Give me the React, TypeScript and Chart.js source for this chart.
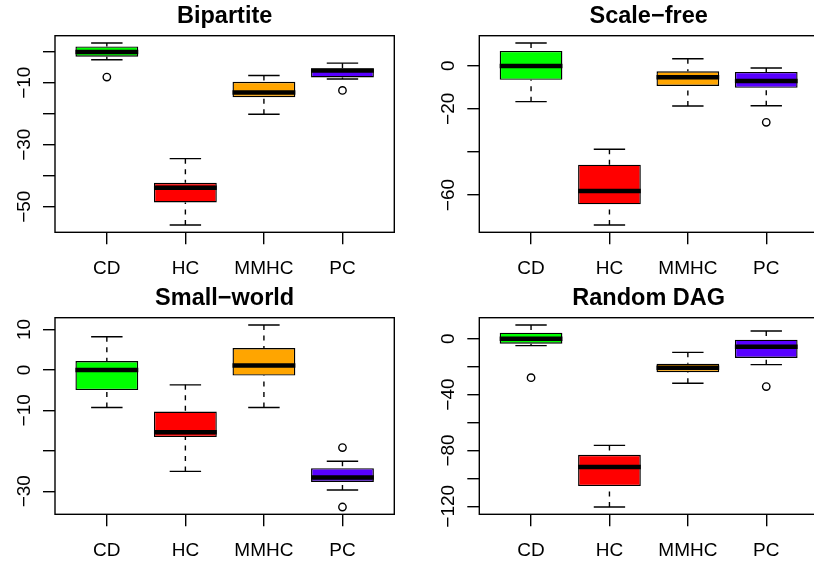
import { useEffect, useRef } from 'react';
import { Chart, registerables } from 'chart.js';

Chart.register(...registerables);

const FONT = '"Liberation Sans", Arial, Helvetica, sans-serif';

const categories = ['CD', 'HC', 'MMHC', 'PC'];
const boxColors = ['#00FF00', '#FF0000', '#FFA500', '#5800FF'];

// Bipartite
const bipartiteLow = [-2.6, -55.9, -20.2, -8.8];
const bipartiteQ1 = [-1.6, -48.6, -14.7, -8.3];
const bipartiteMedian = [-0.1, -43.9, -13.2, -6.1];
const bipartiteQ3 = [1.7, -42.3, -9.7, -5.4];
const bipartiteHigh = [2.8, -34.5, -7.7, -3.7];
const bipartiteOutlierCats = ['CD', 'PC'];
const bipartiteOutlierValues = [-8.2, -12.5];
const bipartiteTicks = [0, -10, -20, -30, -40, -50];
const bipartiteTickLabels = [-10, -30, -50];

// Scale-free
const scaleFreeLow = [-16.7, -73.9, -18.7, -18.6];
const scaleFreeQ1 = [-6.6, -64.3, -9.4, -10.3];
const scaleFreeMedian = [-0.2, -58.1, -5.4, -7.1];
const scaleFreeQ3 = [6.8, -45.9, -2.6, -2.9];
const scaleFreeHigh = [10.5, -38.8, 3.2, -1.1];
const scaleFreeOutlierCats = ['PC'];
const scaleFreeOutlierValues = [-26.3];
const scaleFreeTicks = [0, -20, -40, -60];
const scaleFreeTickLabels = [0, -20, -60];

// Small-world
const smallWorldLow = [-9.3, -25.1, -9.3, -29.7];
const smallWorldQ1 = [-5.0, -16.6, -1.4, -27.7];
const smallWorldMedian = [0.0, -15.4, 1.1, -26.6];
const smallWorldQ3 = [2.2, -10.3, 5.4, -24.3];
const smallWorldHigh = [8.2, -3.7, 11.1, -22.6];
const smallWorldOutlierCats = ['PC', 'PC'];
const smallWorldOutlierValues = [-19.2, -33.9];
const smallWorldTicks = [10, 0, -10, -20, -30];
const smallWorldTickLabels = [10, 0, -10, -30];

// Random DAG
const randomDagLow = [-5.0, -120.5, -31.9, -18.6];
const randomDagQ1 = [-3.6, -105.5, -24.0, -13.8];
const randomDagMedian = [0.0, -91.9, -20.9, -5.7];
const randomDagQ3 = [4.3, -83.1, -17.9, -0.7];
const randomDagHigh = [9.8, -76.4, -9.8, 5.5];
const randomDagOutlierCats = ['CD', 'PC'];
const randomDagOutlierValues = [-27.9, -34.3];
const randomDagTicks = [0, -20, -40, -60, -80, -100, -120];
const randomDagTickLabels = [0, -40, -80, -120];

type PanelData = {
  title: string;
  low: number[];
  q1: number[];
  median: number[];
  q3: number[];
  high: number[];
  outlierCats: string[];
  outlierValues: number[];
  ticks: number[];
  tickLabels: number[];
};

const panels: PanelData[] = [
  { title: 'Bipartite', low: bipartiteLow, q1: bipartiteQ1, median: bipartiteMedian, q3: bipartiteQ3, high: bipartiteHigh, outlierCats: bipartiteOutlierCats, outlierValues: bipartiteOutlierValues, ticks: bipartiteTicks, tickLabels: bipartiteTickLabels },
  { title: 'Scale\u2212free', low: scaleFreeLow, q1: scaleFreeQ1, median: scaleFreeMedian, q3: scaleFreeQ3, high: scaleFreeHigh, outlierCats: scaleFreeOutlierCats, outlierValues: scaleFreeOutlierValues, ticks: scaleFreeTicks, tickLabels: scaleFreeTickLabels },
  { title: 'Small\u2212world', low: smallWorldLow, q1: smallWorldQ1, median: smallWorldMedian, q3: smallWorldQ3, high: smallWorldHigh, outlierCats: smallWorldOutlierCats, outlierValues: smallWorldOutlierValues, ticks: smallWorldTicks, tickLabels: smallWorldTickLabels },
  { title: 'Random DAG', low: randomDagLow, q1: randomDagQ1, median: randomDagMedian, q3: randomDagQ3, high: randomDagHigh, outlierCats: randomDagOutlierCats, outlierValues: randomDagOutlierValues, ticks: randomDagTicks, tickLabels: randomDagTickLabels },
];

const fmt = (v: number) => (v < 0 ? '\u2212' + Math.abs(v) : String(v));

function PanelChart({ p, left, top, width, height, yAxisWidth, padRight }: { p: PanelData; left: number; top: number; width: number; height: number; yAxisWidth: number; padRight: number }) {
  const ref = useRef<HTMLCanvasElement | null>(null);
  useEffect(() => {
    if (!ref.current) return;
    const all = [...p.low, ...p.high, ...p.outlierValues];
    const dmin = Math.min(...all);
    const dmax = Math.max(...all);
    const ext = (dmax - dmin) * 0.04;
    const n = categories.length;
    const xMin = 0.5 - 0.04 * n;
    const xMax = n + 0.5 + 0.04 * n;
    const LW = 1.4;

    const rPlugin = {
      id: 'rbox',
      beforeDatasetsDraw(chart: any) {
        const ctx = chart.ctx;
        const xs = chart.scales.x;
        const ys = chart.scales.y;
        ctx.save();
        ctx.strokeStyle = '#000';
        ctx.lineWidth = LW;
        categories.forEach((_, i) => {
          const x = xs.getPixelForValue(i + 1);
          const half = xs.getPixelForValue(i + 1.2) - x;
          ctx.setLineDash([5, 5.5]);
          ctx.beginPath();
          ctx.moveTo(x, ys.getPixelForValue(p.high[i]));
          ctx.lineTo(x, ys.getPixelForValue(p.q3[i]));
          ctx.moveTo(x, ys.getPixelForValue(p.low[i]));
          ctx.lineTo(x, ys.getPixelForValue(p.q1[i]));
          ctx.stroke();
          ctx.setLineDash([]);
          ctx.beginPath();
          const yh = ys.getPixelForValue(p.high[i]);
          const yl = ys.getPixelForValue(p.low[i]);
          ctx.moveTo(x - half, yh);
          ctx.lineTo(x + half, yh);
          ctx.moveTo(x - half, yl);
          ctx.lineTo(x + half, yl);
          ctx.stroke();
        });
        ctx.restore();
      },
      afterDatasetsDraw(chart: any) {
        const ctx = chart.ctx;
        const xs = chart.scales.x;
        const ys = chart.scales.y;
        ctx.save();
        ctx.strokeStyle = '#000';
        ctx.lineWidth = 4.5;
        ctx.lineCap = 'butt';
        categories.forEach((_, i) => {
          const x = xs.getPixelForValue(i + 1);
          const half = xs.getPixelForValue(i + 1.4) - x;
          const y = ys.getPixelForValue(p.median[i]);
          ctx.beginPath();
          ctx.moveTo(x - half, y);
          ctx.lineTo(x + half, y);
          ctx.stroke();
        });
        ctx.restore();
      },
      afterDraw(chart: any) {
        const ctx = chart.ctx;
        const ca = chart.chartArea;
        const ys = chart.scales.y;
        ctx.save();
        ctx.strokeStyle = '#000';
        ctx.lineWidth = LW;
        ctx.strokeRect(ca.left, ca.top, ca.right - ca.left, ca.bottom - ca.top);
        ctx.fillStyle = '#000';
        ctx.font = `19px ${FONT}`;
        ctx.textAlign = 'center';
        ctx.textBaseline = 'alphabetic';
        p.tickLabels.forEach((v) => {
          const y = ys.getPixelForValue(v);
          ctx.save();
          ctx.translate(ca.left - 25, y);
          ctx.rotate(-Math.PI / 2);
          ctx.fillText(fmt(v), 0, 0);
          ctx.restore();
        });
        ctx.restore();
      },
    };

    const gridOpts = { drawOnChartArea: false, drawTicks: true, tickLength: 12, color: '#000', lineWidth: LW, offset: false };

    const chart = new Chart(ref.current, {
      type: 'bar',
      data: {
        datasets: [
          {
            type: 'bar',
            data: categories.map((_, i) => ({ x: i + 1, y: [p.q1[i], p.q3[i]] })) as any,
            backgroundColor: boxColors,
            borderColor: '#000',
            borderWidth: LW,
            borderSkipped: false,
            categoryPercentage: 1,
            barPercentage: 0.8,
          } as any,
          {
            type: 'scatter',
            data: p.outlierCats.map((c, k) => ({ x: categories.indexOf(c) + 1, y: p.outlierValues[k] })),
            pointRadius: 3.7,
            pointBorderWidth: LW,
            pointBorderColor: '#000',
            pointBackgroundColor: 'rgba(0,0,0,0)',
          } as any,
        ],
      },
      options: {
        animation: false,
        responsive: false,
        devicePixelRatio: window.devicePixelRatio || 1,
        layout: { padding: { left: 0, right: padRight, top: 0, bottom: 0 } },
        plugins: {
          legend: { display: false },
          tooltip: { enabled: false },
          title: {
            display: true,
            text: p.title,
            fullSize: false,
            color: '#000',
            font: { family: FONT, size: 23.5, weight: 'bold', lineHeight: 1.2 },
            padding: { top: 2.5, bottom: 5 },
          },
        },
        scales: {
          x: {
            type: 'linear',
            offset: false,
            min: xMin,
            max: xMax,
            afterBuildTicks: (s: any) => {
              s.ticks = categories.map((_, i) => ({ value: i + 1 }));
            },
            afterFit: (s: any) => {
              s.height = 49.7;
            },
            ticks: {
              autoSkip: false,
              maxRotation: 0,
              minRotation: 0,
              padding: 13,
              color: '#000',
              font: { family: FONT, size: 19 },
              callback: (v: any) => categories[Math.round(Number(v)) - 1] ?? '',
            },
            grid: gridOpts,
            border: { display: false },
          },
          y: {
            type: 'linear',
            min: dmin - ext,
            max: dmax + ext,
            afterBuildTicks: (s: any) => {
              s.ticks = p.ticks.map((v) => ({ value: v }));
            },
            afterFit: (s: any) => {
              s.width = yAxisWidth;
            },
            ticks: { display: false },
            grid: gridOpts,
            border: { display: false },
          },
        },
      } as any,
      plugins: [rPlugin],
    });
    return () => chart.destroy();
  }, [p, yAxisWidth, padRight]);

  return (
    <canvas
      ref={ref}
      width={width}
      height={height}
      style={{ position: 'absolute', left, top, width, height }}
    />
  );
}

export default function App() {
  return (
    <div style={{ position: 'absolute', left: 0, top: 0, width: 814, height: 564, overflow: 'hidden', background: '#fff' }}>
      <PanelChart p={panels[0]} left={0} top={0} width={407} height={282} yAxisWidth={55} padRight={12.7} />
      <PanelChart p={panels[1]} left={407} top={0} width={420} height={282} yAxisWidth={72.3} padRight={9} />
      <PanelChart p={panels[2]} left={0} top={282} width={407} height={282} yAxisWidth={55} padRight={12.7} />
      <PanelChart p={panels[3]} left={407} top={282} width={420} height={282} yAxisWidth={72.3} padRight={9} />
    </div>
  );
}
